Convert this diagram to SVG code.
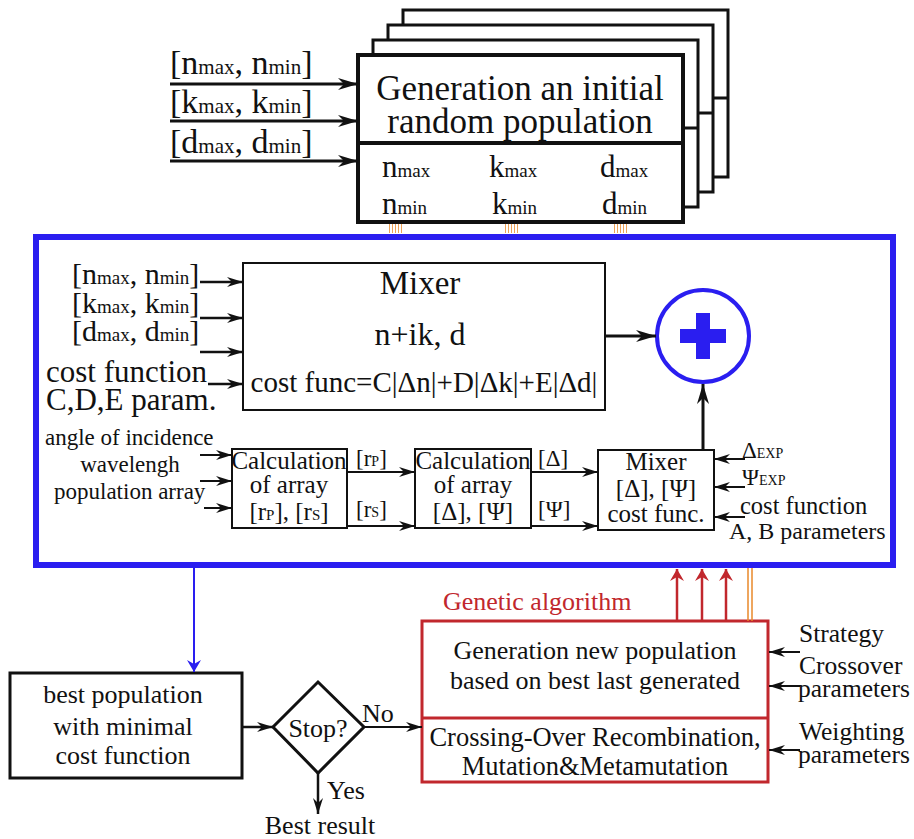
<svg xmlns="http://www.w3.org/2000/svg" width="914" height="839" viewBox="0 0 914 839">
<style>
.blk{fill:#fff;stroke:#111}
.ln{stroke:#111;fill:none}
</style>
<defs>
<marker id="ah" viewBox="0 0 16 10" refX="16" refY="5" markerWidth="16" markerHeight="10" markerUnits="userSpaceOnUse" orient="auto"><path d="M0,0 L16,5 L0,10 L5,5 z" fill="#111"/></marker>
<marker id="ahL" viewBox="0 0 20 12" refX="20" refY="6" markerWidth="20" markerHeight="12" markerUnits="userSpaceOnUse" orient="auto"><path d="M0,0 L20,6 L0,12 L6,6 z" fill="#111"/></marker>
<marker id="ahB" viewBox="0 0 12 14" refX="12" refY="7" markerWidth="12" markerHeight="14" markerUnits="userSpaceOnUse" orient="auto"><path d="M0,0 L12,7 L0,14 L4,7 z" fill="#2a1ef0"/></marker>
<marker id="ahR" viewBox="0 0 12 14" refX="12" refY="7" markerWidth="12" markerHeight="14" markerUnits="userSpaceOnUse" orient="auto"><path d="M0,0 L12,7 L0,14 L4,7 z" fill="#c1272d"/></marker>
</defs>

<g id="init-pop" fill="#111">
  <rect class="blk" x="403" y="10" width="325" height="167" stroke-width="3"/>
  <line class="ln" x1="403" y1="98" x2="728" y2="98" stroke-width="3"/>
  <rect class="blk" x="388" y="25" width="325" height="167" stroke-width="3"/>
  <line class="ln" x1="388" y1="113" x2="713" y2="113" stroke-width="3"/>
  <rect class="blk" x="373" y="40" width="325" height="167" stroke-width="3"/>
  <line class="ln" x1="373" y1="128" x2="698" y2="128" stroke-width="3"/>
  <rect class="blk" x="358" y="55" width="325" height="167" stroke-width="4"/>
  <line class="ln" x1="358" y1="143" x2="683" y2="143" stroke-width="4"/>
  <text font-family="Liberation Serif" text-anchor="middle" x="520" y="100" font-size="35">Generation an initial</text>
  <text font-family="Liberation Serif" text-anchor="middle" x="520" y="133" font-size="35">random population</text>
  <text font-family="Liberation Serif" x="382" y="177" font-size="31">n<tspan font-size="19">max</tspan></text>
  <text font-family="Liberation Serif" x="489" y="177" font-size="31">k<tspan font-size="19">max</tspan></text>
  <text font-family="Liberation Serif" x="600" y="177" font-size="31">d<tspan font-size="19">max</tspan></text>
  <text font-family="Liberation Serif" x="382" y="214" font-size="31">n<tspan font-size="19">min</tspan></text>
  <text font-family="Liberation Serif" x="492" y="214" font-size="31">k<tspan font-size="19">min</tspan></text>
  <text font-family="Liberation Serif" x="602" y="214" font-size="31">d<tspan font-size="19">min</tspan></text>
  <g stroke="#e8892a" stroke-width="0.8">
    <path d="M389.5,224v9M392.5,224v9M395.5,224v9M398.5,224v9M401.5,224v9"/>
    <path d="M505.5,224v9M508.5,224v9M511.5,224v9M514.5,224v9M517.5,224v9"/>
    <path d="M614.5,224v9M617.5,224v9M620.5,224v9M623.5,224v9M626.5,224v9"/>
  </g>
</g>
<g id="init-inputs" fill="#111">
  <text font-family="Liberation Serif" x="170" y="74" font-size="34">[n<tspan font-size="21">max</tspan>, n<tspan font-size="21">min</tspan>]</text>
  <text font-family="Liberation Serif" x="170" y="113" font-size="34">[k<tspan font-size="21">max</tspan>, k<tspan font-size="21">min</tspan>]</text>
  <text font-family="Liberation Serif" x="170" y="153" font-size="34">[d<tspan font-size="21">max</tspan>, d<tspan font-size="21">min</tspan>]</text>
</g>

<g id="blue-block">
  <rect x="36" y="237" width="857" height="328" fill="none" stroke="#2a1ef0" stroke-width="6"/>
</g>

<g id="mixer" fill="#111">
  <rect class="blk" x="243" y="263" width="362" height="147" stroke-width="2"/>
  <text font-family="Liberation Serif" text-anchor="middle" x="420" y="294" font-size="33">Mixer</text>
  <text font-family="Liberation Serif" text-anchor="middle" x="420" y="345" font-size="32">n+ik, d</text>
  <text font-family="Liberation Serif" text-anchor="middle" x="424" y="392" font-size="29">cost func=C|Δn|+D|Δk|+E|Δd|</text>
</g>
<g id="mixer-inputs" fill="#111">
  <text font-family="Liberation Serif" x="72" y="284" font-size="30">[n<tspan font-size="19">max</tspan>, n<tspan font-size="19">min</tspan>]</text>
  <text font-family="Liberation Serif" x="72" y="313" font-size="30">[k<tspan font-size="19">max</tspan>, k<tspan font-size="19">min</tspan>]</text>
  <text font-family="Liberation Serif" x="72" y="341" font-size="30">[d<tspan font-size="19">max</tspan>, d<tspan font-size="19">min</tspan>]</text>
  <text font-family="Liberation Serif" x="46" y="382" font-size="31">cost function</text>
  <text font-family="Liberation Serif" x="46" y="410" font-size="31">C,D,E param.</text>
</g>
<g id="sum">
  <circle cx="703" cy="336" r="46" fill="#fff" stroke="#2a1ef0" stroke-width="4"/>
  <path d="M696,313h14v16h16v14h-16v16h-14v-16h-16v-14h16z" fill="#2a1ef0"/>
</g>

<g id="calc1" fill="#111">
  <rect class="blk" x="232" y="449" width="115" height="79" stroke-width="2"/>
  <text font-family="Liberation Serif" text-anchor="middle" x="289" y="469" font-size="25">Calculation</text>
  <text font-family="Liberation Serif" text-anchor="middle" x="289" y="493" font-size="25">of array</text>
  <text font-family="Liberation Serif" text-anchor="middle" x="289" y="520" font-size="25">[r<tspan font-size="15">P</tspan>], [r<tspan font-size="15">S</tspan>]</text>
</g>
<g id="calc2" fill="#111">
  <rect class="blk" x="415" y="449" width="116" height="79" stroke-width="2"/>
  <text font-family="Liberation Serif" text-anchor="middle" x="473" y="469" font-size="25">Calculation</text>
  <text font-family="Liberation Serif" text-anchor="middle" x="473" y="493" font-size="25">of array</text>
  <text font-family="Liberation Serif" text-anchor="middle" x="473" y="520" font-size="25">[Δ], [Ψ]</text>
</g>
<g id="mixer2" fill="#111">
  <rect class="blk" x="598" y="450" width="116" height="80" stroke-width="2"/>
  <text font-family="Liberation Serif" text-anchor="middle" x="656" y="470" font-size="25">Mixer</text>
  <text font-family="Liberation Serif" text-anchor="middle" x="656" y="497" font-size="25">[Δ], [Ψ]</text>
  <text font-family="Liberation Serif" text-anchor="middle" x="656" y="522" font-size="25">cost func.</text>
</g>
<g id="calc-labels" fill="#111">
  <text font-family="Liberation Serif" x="45" y="445" font-size="23">angle of incidence</text>
  <text font-family="Liberation Serif" text-anchor="middle" x="130" y="472" font-size="23">wavelengh</text>
  <text font-family="Liberation Serif" x="54" y="499" font-size="23">population array</text>
  <text font-family="Liberation Serif" x="356" y="466" font-size="23">[r<tspan font-size="14">P</tspan>]</text>
  <text font-family="Liberation Serif" x="356" y="517" font-size="23">[r<tspan font-size="14">S</tspan>]</text>
  <text font-family="Liberation Serif" x="538" y="466" font-size="23">[Δ]</text>
  <text font-family="Liberation Serif" x="538" y="517" font-size="23">[Ψ]</text>
  <text font-family="Liberation Serif" x="742" y="458" font-size="23">Δ<tspan font-size="14">EXP</tspan></text>
  <text font-family="Liberation Serif" x="742" y="485" font-size="23">Ψ<tspan font-size="14">EXP</tspan></text>
  <text font-family="Liberation Serif" x="740" y="514" font-size="24.5">cost function</text>
  <text font-family="Liberation Serif" x="729" y="539" font-size="24">A, B parameters</text>
</g>

<g id="best-pop" fill="#111">
  <rect class="blk" x="10" y="673" width="232" height="105" stroke-width="3"/>
  <text font-family="Liberation Serif" text-anchor="middle" x="123" y="703" font-size="26">best population</text>
  <text font-family="Liberation Serif" text-anchor="middle" x="123" y="735" font-size="26">with minimal</text>
  <text font-family="Liberation Serif" text-anchor="middle" x="123" y="764" font-size="26">cost function</text>
</g>
<g id="stop" fill="#111">
  <path d="M318,682 L364,727 L318,773 L273,727 Z" fill="#fff" stroke="#111" stroke-width="3"/>
  <text font-family="Liberation Serif" text-anchor="middle" x="318" y="737" font-size="26">Stop?</text>
</g>
<g id="best-result" fill="#111">
  <text font-family="Liberation Serif" text-anchor="middle" x="320" y="834" font-size="26">Best result</text>
</g>
<g id="ga" fill="#111">
  <text font-family="Liberation Serif" fill="#c1272d" x="443" y="610" font-size="26">Genetic algorithm</text>
  <rect x="422" y="621" width="346" height="161" fill="#fff" stroke="#c1272d" stroke-width="3"/>
  <line stroke="#c1272d" x1="422" y1="718" x2="768" y2="718" stroke-width="3"/>
  <text font-family="Liberation Serif" text-anchor="middle" x="595" y="659" font-size="26">Generation new population</text>
  <text font-family="Liberation Serif" text-anchor="middle" x="595" y="689" font-size="26">based on best last generated</text>
  <text font-family="Liberation Serif" text-anchor="middle" x="595" y="746" font-size="26.5">Crossing-Over Recombination,</text>
  <text font-family="Liberation Serif" text-anchor="middle" x="595" y="775" font-size="26.5">Mutation&amp;Metamutation</text>
</g>
<g id="ga-inputs" fill="#111">
  <text font-family="Liberation Serif" x="799" y="642" font-size="25.5">Strategy</text>
  <text font-family="Liberation Serif" x="799" y="674" font-size="25.5">Crossover</text>
  <text font-family="Liberation Serif" x="798" y="697" font-size="25.5">parameters</text>
  <text font-family="Liberation Serif" x="799" y="740" font-size="25.5">Weighting</text>
  <text font-family="Liberation Serif" x="798" y="763" font-size="25.5">parameters</text>
</g>

<g id="connectors" stroke="#111" fill="none">
  <line x1="170" y1="84" x2="358" y2="84" stroke-width="3" marker-end="url(#ahL)"/>
  <line x1="170" y1="121" x2="358" y2="121" stroke-width="3" marker-end="url(#ahL)"/>
  <line x1="170" y1="161" x2="358" y2="161" stroke-width="3" marker-end="url(#ahL)"/>

  <line x1="200" y1="282" x2="243" y2="282" stroke-width="2.5" marker-end="url(#ah)"/>
  <line x1="200" y1="318" x2="243" y2="318" stroke-width="2.5" marker-end="url(#ah)"/>
  <line x1="200" y1="352" x2="243" y2="352" stroke-width="2.5" marker-end="url(#ah)"/>
  <line x1="208" y1="384" x2="243" y2="384" stroke-width="2.5" marker-end="url(#ah)"/>

  <line x1="605" y1="336" x2="656" y2="336" stroke-width="3" marker-end="url(#ahL)"/>
  <line x1="703" y1="450" x2="703" y2="384" stroke-width="3" marker-end="url(#ahL)"/>

  <line x1="200" y1="455" x2="232" y2="455" stroke-width="2" marker-end="url(#ah)"/>
  <line x1="200" y1="481" x2="232" y2="481" stroke-width="2" marker-end="url(#ah)"/>
  <line x1="204" y1="508" x2="232" y2="508" stroke-width="2" marker-end="url(#ah)"/>

  <line x1="347" y1="472" x2="415" y2="472" stroke-width="2" marker-end="url(#ah)"/>
  <line x1="347" y1="526" x2="415" y2="526" stroke-width="2" marker-end="url(#ah)"/>
  <line x1="531" y1="472" x2="598" y2="472" stroke-width="2" marker-end="url(#ah)"/>
  <line x1="531" y1="526" x2="598" y2="526" stroke-width="2" marker-end="url(#ah)"/>

  <line x1="745" y1="459" x2="714" y2="459" stroke-width="2" marker-end="url(#ah)"/>
  <line x1="745" y1="487" x2="714" y2="487" stroke-width="2" marker-end="url(#ah)"/>
  <line x1="745" y1="517" x2="714" y2="517" stroke-width="2" marker-end="url(#ah)"/>

  <line x1="194" y1="568" x2="194" y2="672" stroke="#2a1ef0" stroke-width="2" marker-end="url(#ahB)"/>

  <line x1="242" y1="727" x2="273" y2="727" stroke-width="2.5" marker-end="url(#ah)"/>
  <line x1="364" y1="727" x2="422" y2="727" stroke-width="2" marker-end="url(#ah)"/>
  <text font-family="Liberation Serif" fill="#111" stroke="none" x="362" y="722" font-size="26">No</text>
  <line x1="318" y1="773" x2="318" y2="814" stroke-width="2.5" marker-end="url(#ah)"/>
  <text font-family="Liberation Serif" fill="#111" stroke="none" x="327" y="799" font-size="26">Yes</text>

  <line x1="677" y1="621" x2="677" y2="569" stroke="#c1272d" stroke-width="2.5" marker-end="url(#ahR)"/>
  <line x1="702" y1="621" x2="702" y2="569" stroke="#c1272d" stroke-width="2.5" marker-end="url(#ahR)"/>
  <line x1="726" y1="621" x2="726" y2="569" stroke="#c1272d" stroke-width="2.5" marker-end="url(#ahR)"/>
  <line x1="748" y1="568" x2="748" y2="621" stroke="#e8892a" stroke-width="1.5"/>
  <line x1="752" y1="568" x2="752" y2="621" stroke="#e8892a" stroke-width="1.5"/>

  <line x1="800" y1="652" x2="769" y2="652" stroke-width="2" marker-end="url(#ah)"/>
  <line x1="800" y1="686" x2="769" y2="686" stroke-width="2" marker-end="url(#ah)"/>
  <line x1="800" y1="750" x2="769" y2="750" stroke-width="2" marker-end="url(#ah)"/>
</g>
</svg>
